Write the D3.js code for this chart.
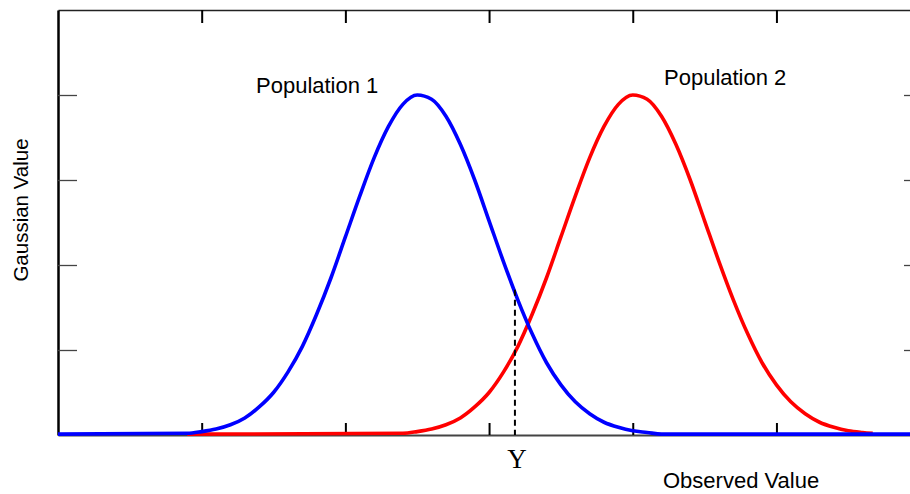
<!DOCTYPE html>
<html>
<head>
<meta charset="utf-8">
<script src="https://cdn.jsdelivr.net/npm/d3@7"></script>
<style>
  body { margin: 0; background: #fff; }
  svg { display: block; }
  text { font-family: "Liberation Sans", Arial, sans-serif; fill: #000; }
</style>
</head>
<body>
<div id="chart"></div>
<script>
var xTicks = [1, 2, 3, 4, 5];
var yTicks = [1, 2, 3, 4];

var pop1X = [0, 0.9, 1.0, 1.1, 1.2, 1.3, 1.4, 1.5, 1.6, 1.7, 1.8, 1.9, 2.0, 2.1, 2.2, 2.3, 2.4, 2.5,
             2.6, 2.7, 2.8, 2.9, 3.0, 3.1, 3.2, 3.3, 3.4, 3.5, 3.6, 3.7, 3.8, 3.9, 4.0, 4.1, 4.2, 6.02];
var pop1Y = [0.01, 0.02, 0.04, 0.07, 0.12, 0.2, 0.33, 0.5, 0.74, 1.04, 1.42, 1.85, 2.33, 2.81, 3.26, 3.63, 3.89, 4.0,
             3.95, 3.75, 3.42, 3.0, 2.52, 2.04, 1.59, 1.19, 0.85, 0.59, 0.39, 0.25, 0.15, 0.09, 0.05, 0.03, 0.01, 0.01];

var pop2X = [0.9, 2.4, 2.5, 2.6, 2.7, 2.8, 2.9, 3.0, 3.1, 3.2, 3.3, 3.4, 3.5, 3.6, 3.7, 3.8, 3.9, 4.0,
             4.1, 4.2, 4.3, 4.4, 4.5, 4.6, 4.7, 4.8, 4.9, 5.0, 5.1, 5.2, 5.3, 5.4, 5.5, 5.6, 5.67];
var pop2Y = [0.01, 0.02, 0.04, 0.07, 0.12, 0.2, 0.33, 0.5, 0.74, 1.04, 1.42, 1.85, 2.33, 2.81, 3.26, 3.63, 3.89, 4.0,
             3.95, 3.75, 3.42, 3.0, 2.52, 2.04, 1.59, 1.19, 0.85, 0.59, 0.39, 0.25, 0.15, 0.09, 0.05, 0.03, 0.02];

var markerX = 3.18, markerTop = 1.71;   // the dashed "Y" line

var w = 910, h = 494;
var margin = {top: 10, right: -13, bottom: 59, left: 58};

var x = d3.scaleLinear().domain([0, 6.02]).range([margin.left, w - margin.right]);
var y = d3.scaleLinear().domain([0, 5]).range([h - margin.bottom, margin.top]);

var svg = d3.select("#chart").append("svg")
    .attr("width", w)
    .attr("height", h);

// frame + ticks
var gTop = svg.append("g")
    .attr("transform", "translate(0," + y(5) + ")")
    .call(d3.axisTop(x).tickValues(xTicks).tickSize(-13).tickSizeOuter(0).tickFormat(""));
gTop.select(".domain").attr("stroke", "#222").attr("stroke-width", 1.5);
gTop.selectAll(".tick line").attr("stroke", "#000").attr("stroke-width", 2);

var gBottom = svg.append("g")
    .attr("transform", "translate(0," + y(0) + ")")
    .call(d3.axisBottom(x).tickValues(xTicks).tickSize(-12).tickSizeOuter(0).tickFormat(""));
gBottom.select(".domain").attr("stroke", "#444").attr("stroke-width", 2);
gBottom.selectAll(".tick line").attr("stroke", "#000").attr("stroke-width", 2);

var gLeft = svg.append("g")
    .attr("transform", "translate(" + x(0) + ",0)")
    .call(d3.axisLeft(y).tickValues(yTicks).tickSize(-19).tickSizeOuter(0).tickFormat(""));
gLeft.select(".domain").attr("stroke", "#000").attr("stroke-width", 2.5);
gLeft.selectAll(".tick line").attr("stroke", "#444").attr("stroke-width", 1.3);

var gRight = svg.append("g")
    .attr("transform", "translate(" + x(6.02) + ",0)")
    .call(d3.axisRight(y).tickValues(yTicks).tickSize(-19).tickSizeOuter(0).tickFormat(""));
gRight.select(".domain").attr("stroke", "#000").attr("stroke-width", 2);
gRight.selectAll(".tick line").attr("stroke", "#444").attr("stroke-width", 1.3);

// curves
var line = d3.line()
    .x(function(d){ return x(d[0]); })
    .y(function(d){ return y(d[1]); })
    .curve(d3.curveMonotoneX);

svg.append("path")
    .datum(d3.zip(pop2X, pop2Y))
    .attr("d", line)
    .attr("fill", "none")
    .attr("stroke", "#ff0000")
    .attr("stroke-width", 3.6);

svg.append("path")
    .datum(d3.zip(pop1X, pop1Y))
    .attr("d", line)
    .attr("fill", "none")
    .attr("stroke", "#0000ff")
    .attr("stroke-width", 3.6);

// dashed marker
svg.append("line")
    .attr("x1", x(markerX)).attr("x2", x(markerX))
    .attr("y1", y(markerTop)).attr("y2", y(0))
    .attr("stroke", "#000")
    .attr("stroke-width", 2)
    .attr("stroke-dasharray", "6,4");

svg.append("text")
    .attr("x", x(markerX) + 2)
    .attr("y", 468)
    .attr("text-anchor", "middle")
    .style("font-family", "'Liberation Serif', 'Times New Roman', serif")
    .style("font-size", "27px")
    .text("Y");

// labels
svg.append("text")
    .attr("x", 256).attr("y", 93)
    .style("font-size", "22px")
    .text("Population 1");

svg.append("text")
    .attr("x", 664).attr("y", 85)
    .style("font-size", "22px")
    .text("Population 2");

svg.append("text")
    .attr("x", 663).attr("y", 488)
    .style("font-size", "22px")
    .text("Observed Value");

svg.append("text")
    .attr("transform", "translate(28,210) rotate(-90)")
    .attr("text-anchor", "middle")
    .style("font-size", "20.5px")
    .text("Gaussian Value");
</script>
</body>
</html>
